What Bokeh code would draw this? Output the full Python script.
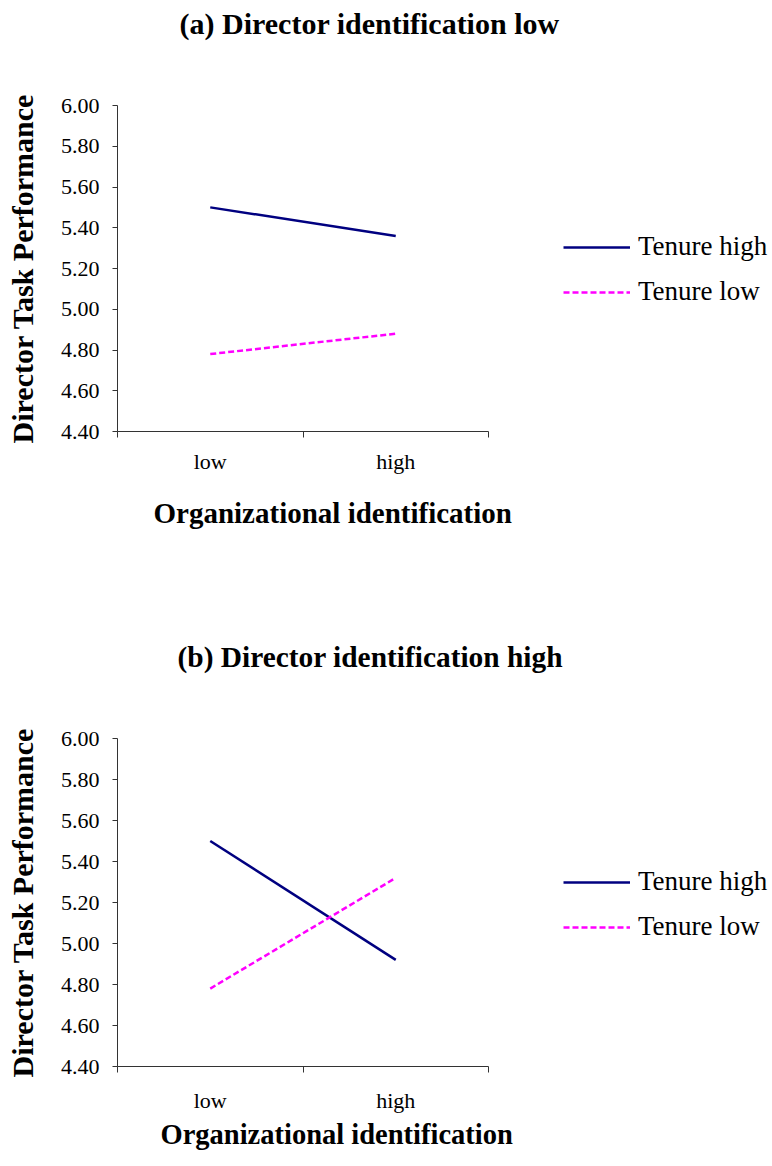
from bokeh.plotting import figure
from bokeh.models import FixedTicker, Range1d, Legend, LegendItem, NumeralTickFormatter, LinearAxis, Title
from bokeh.layouts import column
from bokeh.embed import file_html
from bokeh.resources import INLINE

# ---- data ----
categories = ["low", "high"]
series_names = ["Tenure high", "Tenure low"]
panel_titles = ["(a) Director identification low", "(b) Director identification high"]
panel_a_tenure_high = [5.50, 5.36]
panel_a_tenure_low = [4.78, 4.88]
panel_b_tenure_high = [5.50, 4.92]
panel_b_tenure_low = [4.78, 5.32]
y_ticks = [4.40, 4.60, 4.80, 5.00, 5.20, 5.40, 5.60, 5.80, 6.00]
x_label = "Organizational identification"
y_label = "Director Task Performance"

SERIF = "Liberation Serif"
AXIS_COLOR = "#333333"
COLORS = ["#000080", "#FF00FF"]
DASHES = ["solid", "6 3"]


def make_panel(title, high_vals, low_vals, frame_h, border_bottom, title_offset, title_size,
               tick_standoff, xlabel_standoff, xlabel_offset, xlabel_size):
    xs = [i + 0.5 for i in range(len(categories))]
    p = figure(output_backend="svg", toolbar_location=None,
               x_range=Range1d(0, len(categories)), y_range=Range1d(y_ticks[0], y_ticks[-1]),
               frame_width=371, frame_height=frame_h,
               min_border_left=117, min_border_top=105, min_border_right=284,
               min_border_bottom=border_bottom)
    p.outline_line_color = None
    p.grid.grid_line_color = None
    p.background_fill_color = "white"
    p.border_fill_color = "white"

    xa = p.below[0]
    ya = p.left[0]

    # invisible spacer between title and frame (one transparent tick, empty label)
    mid = len(categories) / 2
    spacer = LinearAxis(ticker=FixedTicker(ticks=[mid], minor_ticks=[]), axis_line_alpha=0,
                        major_tick_out=66, major_tick_in=0, minor_tick_out=0, minor_tick_in=0,
                        major_tick_line_alpha=0, minor_tick_line_alpha=0,
                        major_label_overrides={mid: ""}, major_label_text_font_size="1px",
                        major_label_standoff=0)
    p.add_layout(spacer, "above")

    p.title.text = title
    p.title.text_font = SERIF
    p.title.text_font_size = title_size
    p.title.text_font_style = "bold"
    p.title.text_color = "black"
    p.title.align = "left"
    p.title.offset = title_offset
    p.title.standoff = 0

    # x axis
    xa.ticker = FixedTicker(ticks=xs, minor_ticks=list(range(len(categories) + 1)))
    xa.major_label_overrides = {x: c for x, c in zip(xs, categories)}
    xa.major_tick_line_color = None
    xa.major_tick_out = 0
    xa.major_tick_in = 0
    xa.minor_tick_out = 6
    xa.minor_tick_in = 0
    xa.minor_tick_line_color = AXIS_COLOR
    xa.axis_line_color = AXIS_COLOR
    xa.major_label_text_font = SERIF
    xa.major_label_text_font_size = "22px"
    xa.major_label_text_color = "black"
    xa.major_label_standoff = tick_standoff

    # x axis label as a below-title so it can be offset like the original
    xt = Title(text=x_label, text_font=SERIF, text_font_size=xlabel_size, text_font_style="bold",
               text_color="black", align="left", offset=xlabel_offset,
               vertical_align="top", standoff=xlabel_standoff)
    p.add_layout(xt, "below")

    # y axis
    ya.ticker = FixedTicker(ticks=y_ticks, minor_ticks=[])
    ya.formatter = NumeralTickFormatter(format="0.00")
    ya.major_tick_out = 5
    ya.major_tick_in = 0
    ya.major_tick_line_color = AXIS_COLOR
    ya.minor_tick_line_color = None
    ya.axis_line_color = AXIS_COLOR
    ya.major_label_text_font = SERIF
    ya.major_label_text_font_size = "22px"
    ya.major_label_text_color = "black"
    ya.major_label_standoff = 13
    ya.axis_label = y_label
    ya.axis_label_text_font = SERIF
    ya.axis_label_text_font_size = "30px"
    ya.axis_label_text_font_style = "bold"
    ya.axis_label_text_color = "black"
    ya.axis_label_standoff = 19

    r1 = p.line(xs, high_vals, line_color=COLORS[0], line_width=2.5, line_dash=DASHES[0])
    r2 = p.line(xs, low_vals, line_color=COLORS[1], line_width=2.5, line_dash=DASHES[1])

    legend = Legend(items=[LegendItem(label=series_names[0], renderers=[r1]),
                           LegendItem(label=series_names[1], renderers=[r2])],
                    location=(75, 124))
    legend.border_line_color = None
    legend.background_fill_alpha = 0
    legend.label_text_font = SERIF
    legend.label_text_font_size = "27px"
    legend.label_text_color = "black"
    legend.glyph_width = 67
    legend.glyph_height = 30
    legend.label_height = 30
    legend.label_standoff = 8
    legend.spacing = 14
    legend.padding = 0
    legend.margin = 0
    p.add_layout(legend, "right")
    return p


pa = make_panel(panel_titles[0], panel_a_tenure_high, panel_a_tenure_low, 326, 202,
                62, "30px", 11, 40, 36, "29px")
pb = make_panel(panel_titles[1], panel_b_tenure_high, panel_b_tenure_low, 328, 95,
                60, "29.4px", 15, 6, 43, "28.5px")

layout = column(pa, pb, spacing=0)
open("out.html", "w").write(file_html(layout, INLINE))
